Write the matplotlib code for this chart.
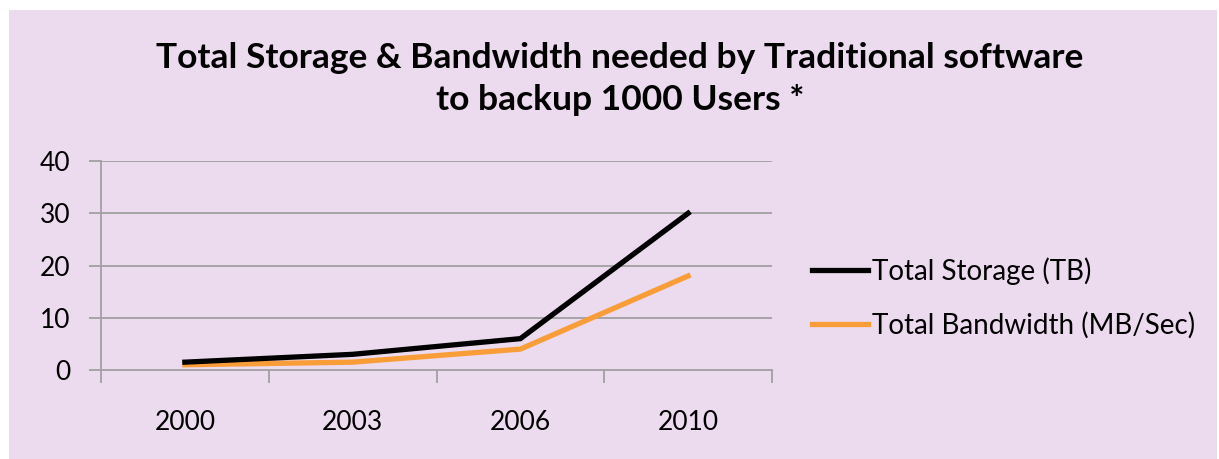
import matplotlib
matplotlib.use("Agg")
import matplotlib.pyplot as plt
from matplotlib.patches import Rectangle

# ---------------------------------------------------------------------------
# data
# ---------------------------------------------------------------------------
years = ["2000", "2003", "2006", "2010"]
storage_tb = [1.5, 3, 6, 30]
bandwidth_mbs = [1, 1.5, 4, 18]
y_ticks = [0, 10, 20, 30, 40]

BG = "#ECDAEE"
GRID = "#A0A0A0"
ORANGE = "#F99D38"
W, H = 1219, 459

plt.rcParams["font.family"] = ["Lato", "DejaVu Sans"]

fig = plt.figure(figsize=(W / 100, H / 100), dpi=100)
fig.patch.set_facecolor("white")
# lavender chart area (thin white strip at top/left/right)
fig.patches.append(Rectangle((9 / W, 0), (1217 - 9) / W, (H - 10) / H,
                             transform=fig.transFigure, facecolor=BG,
                             edgecolor="none", zorder=-10))

ax = fig.add_axes([101 / W, 1 - 370 / H, (772 - 101) / W, (370 - 161) / H])
ax.set_facecolor("none")

x = list(range(len(years)))
ax.plot(x, storage_tb, color="black", lw=3.8, solid_joinstyle="miter",
        label="Total Storage (TB)", zorder=3)
ax.plot(x, bandwidth_mbs, color=ORANGE, lw=3.8, solid_joinstyle="miter",
        label="Total Bandwidth (MB/Sec)", zorder=2)

ax.set_xlim(-0.5, len(years) - 0.5)
ax.set_ylim(0, 40)
ax.set_yticks(y_ticks)
ax.set_yticklabels([str(v) for v in y_ticks], fontsize=19)
for v in y_ticks[1:]:
    ax.axhline(v, color=GRID, lw=1.3, zorder=1)

# category ticks sit at the boundaries, labels at the centres
ax.set_xticks([i - 0.5 for i in range(len(years) + 1)])
ax.set_xticklabels([])
ax.set_xticks(x, minor=True)
ax.set_xticklabels(years, minor=True, fontsize=19)
ax.tick_params(axis="x", which="minor", length=0, pad=29)
ax.tick_params(axis="x", which="major", length=9, width=1.3, color=GRID,
               direction="out")
ax.tick_params(axis="y", length=9, width=1.3, color=GRID, pad=13)

for side in ("top", "right"):
    ax.spines[side].set_visible(False)
for side in ("left", "bottom"):
    ax.spines[side].set_color(GRID)
    ax.spines[side].set_linewidth(1.3)

fig.text(620 / W, 1 - 58 / H,
         "Total Storage & Bandwidth needed by Traditional software",
         ha="center", va="center", fontsize=25.5, fontweight="bold")
fig.text(620 / W, 1 - 100 / H, "to backup 1000 Users *",
         ha="center", va="center", fontsize=25.5, fontweight="bold")

ax.legend(loc="center left", bbox_to_anchor=(812 / W, 1 - 298 / H),
          bbox_transform=fig.transFigure, frameon=False, fontsize=20,
          handlelength=2.0, handletextpad=0.15, labelspacing=0.95,
          borderpad=0, borderaxespad=0)

fig.savefig("out.png", dpi=100, facecolor=fig.get_facecolor())
